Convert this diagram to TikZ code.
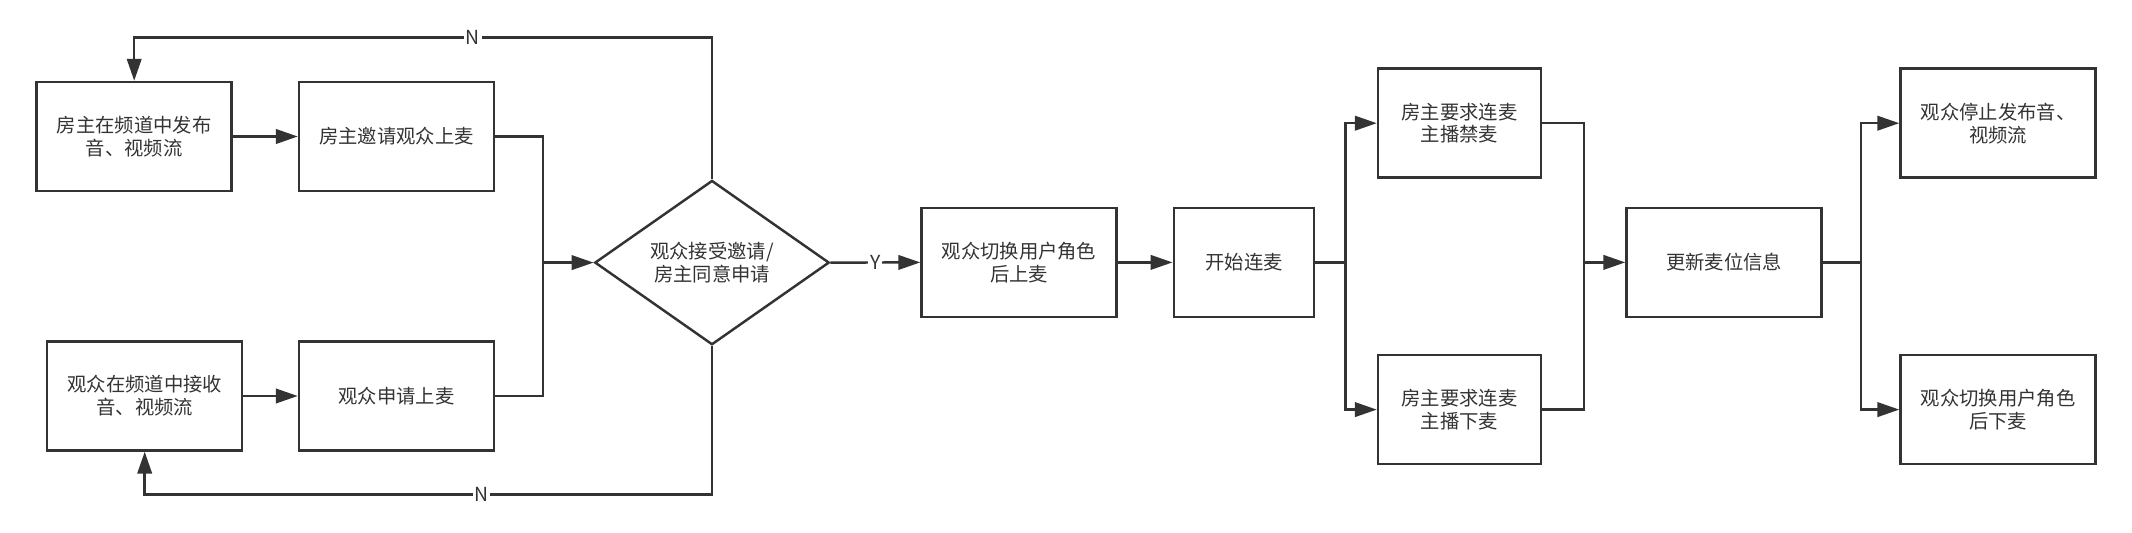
\documentclass[tikz,border=0pt]{standalone}
\usepackage{fontspec}
\setmainfont{Noto Sans CJK SC}
\usetikzlibrary{shapes.geometric,arrows.meta}
\definecolor{linec}{HTML}{333333}
\begin{document}
\begin{tikzpicture}[
        x=0.02cm, y=-0.02cm,
        font=\fontsize{11}{13}\selectfont,
        box/.style={
            draw=linec,
            line width=1.4pt,
            rectangle,
            minimum width=3.9cm,
            minimum height=2.18cm,
            align=center,
            text=linec
        },
        decision/.style={
            draw=linec,
            line width=1.4pt,
            diamond,
            inner sep=0pt,
            minimum width=4.69cm,
            minimum height=3.16cm,
            align=center,
            text=linec
        },
        arr/.style={-{Triangle[length=0.44cm,width=0.29cm]},line width=1.4pt,draw=linec},
        line/.style={line width=1.4pt,draw=linec},
        lbl/.style={fill=white,text=linec,inner sep=1pt}
    ]
        \useasboundingbox (0,0) rectangle (2132,533);

        % Host and audience boxes
        \node[box] (hostpub) at (134.2,136.5) {房主在频道中发布\\音、视频流};
        \node[box] (invite) at (396.5,136.5) {房主邀请观众上麦};
        \node[box] (audrecv) at (144.7,396) {观众在频道中接收\\音、视频流};
        \node[box] (apply) at (396.5,396) {观众申请上麦};

        % Decision
        \node[decision] (accept) at (712,262.6) {观众接受邀请/\\房主同意申请};

        % Co-hosting boxes
        \node[box] (switchup) at (1019,262.4) {观众切换用户角色\\后上麦};
        \node[box, minimum width=2.81cm] (start) at (1244,262.4) {开始连麦};
        \node[box, minimum width=3.26cm] (mute) at (1459.5,123.2) {房主要求连麦\\主播禁麦};
        \node[box, minimum width=3.26cm] (kick) at (1459.5,409.6) {房主要求连麦\\主播下麦};
        \node[box] (update) at (1724,262.4) {更新麦位信息};
        \node[box] (stoppub) at (1998,123.2) {观众停止发布音、\\视频流};
        \node[box] (switchdown) at (1998,409.6) {观众切换用户角色\\后下麦};

        % Junction points
        \coordinate (join1) at (543,262.6);
        \coordinate (fork1) at (1345.5,262.4);
        \coordinate (join2) at (1584,262.4);
        \coordinate (fork2) at (1861,262.4);
        \coordinate (backtop) at (712,37.4);
        \coordinate (backbot) at (712,494.6);

        % Arrows on the left
        \draw[arr] (hostpub.east) -- (invite.west);
        \draw[arr] (audrecv.east) -- (apply.west);
        \draw[line] (invite.east) -| (join1);
        \draw[line] (apply.east) -| (join1);
        \draw[arr] (join1) -- (accept.west);

        % No branches
        \draw[arr] (accept.north) -- (backtop) -| node[lbl,pos=0.207] {N} (hostpub.north);
        \draw[arr] (accept.south) -- (backbot) -| node[lbl,pos=0.203] {N} (audrecv.south);

        % Yes branch
        \draw[arr] (accept.east) -- node[lbl] {Y} (switchup.west);
        \draw[arr] (switchup.east) -- (start.west);
        \draw[line] (start.east) -- (fork1);
        \draw[arr] (fork1) |- (mute.west);
        \draw[arr] (fork1) |- (kick.west);
        \draw[line] (mute.east) -| (join2);
        \draw[line] (kick.east) -| (join2);
        \draw[arr] (join2) -- (update.west);
        \draw[line] (update.east) -- (fork2);
        \draw[arr] (fork2) |- (stoppub.west);
        \draw[arr] (fork2) |- (switchdown.west);

    \end{tikzpicture}
\end{document}
